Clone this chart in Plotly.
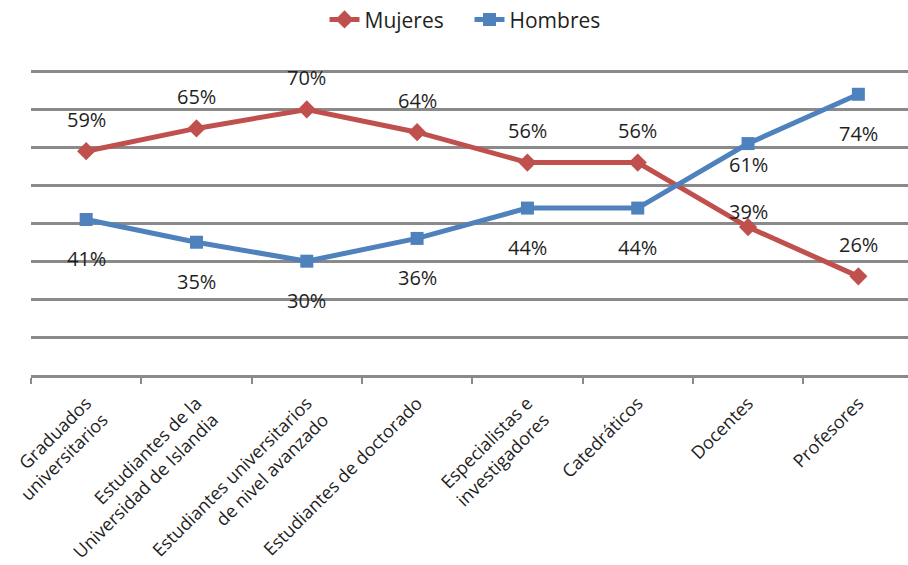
import plotly.graph_objects as go

# Share of women and men at each stage of the academic career
categorias = [
    "Graduados<br>universitarios",
    "Estudiantes de la<br>Universidad de Islandia",
    "Estudiantes universitarios<br>de nivel avanzado",
    "Estudiantes de doctorado",
    "Especialistas e<br>investigadores",
    "Catedráticos",
    "Docentes",
    "Profesores",
]
mujeres = [59, 65, 70, 64, 56, 56, 39, 26]
hombres = [41, 35, 30, 36, 44, 44, 61, 74]

ROJO = "#C0504D"
AZUL = "#4F81BD"
GRIS = "#8A8A8A"
TEXTO = "#1F1F1F"
FUENTE = "Open Sans"

fig = go.Figure()
fig.add_trace(go.Scatter(
    x=categorias, y=mujeres, name="Mujeres", mode="lines+markers",
    line=dict(color=ROJO, width=5),
    marker=dict(symbol="diamond", size=14, color=ROJO),
))
fig.add_trace(go.Scatter(
    x=categorias, y=hombres, name="Hombres", mode="lines+markers",
    line=dict(color=AZUL, width=5),
    marker=dict(symbol="square", size=13, color=AZUL),
))

# Data labels: women above the line, men below; the "Docentes" pair sits closer
for i, (c, m, h) in enumerate(zip(categorias, mujeres, hombres)):
    up = 16 if i == 6 else 32
    down = -21 if i == 6 else -39
    fig.add_annotation(x=c, y=m, text=f"{m}%", showarrow=False, yshift=up,
                       font=dict(family=FUENTE, size=20, color=TEXTO))
    fig.add_annotation(x=c, y=h, text=f"{h}%", showarrow=False, yshift=down,
                       font=dict(family=FUENTE, size=20, color=TEXTO))

fig.update_layout(
    width=908, height=565,
    margin=dict(l=31, r=0, t=70, b=190),
    paper_bgcolor="white", plot_bgcolor="white",
    font=dict(family=FUENTE, color=TEXTO),
    showlegend=True,
    legend=dict(orientation="h", x=0.5, xanchor="center",
                y=0.965, yanchor="middle", yref="container",
                font=dict(size=21, color=TEXTO),
                entrywidth=100, bgcolor="rgba(0,0,0,0)"),
)

fig.update_xaxes(
    type="category", range=[-0.5, 7.45], automargin=False,
    showline=True, linecolor=GRIS, linewidth=2.5,
    ticks="outside", tickson="boundaries", ticklen=6, tickcolor=GRIS, tickwidth=2,
    tickangle=-45, ticklabelstandoff=8,
    tickfont=dict(family=FUENTE, size=18, color=TEXTO),
    showgrid=False, zeroline=False,
)
fig.update_yaxes(
    range=[0, 80.4], dtick=10, showticklabels=False, automargin=False,
    showgrid=True, gridcolor=GRIS, gridwidth=2.5,
    zeroline=False, showline=False,
)

fig.write_html("out.html")
